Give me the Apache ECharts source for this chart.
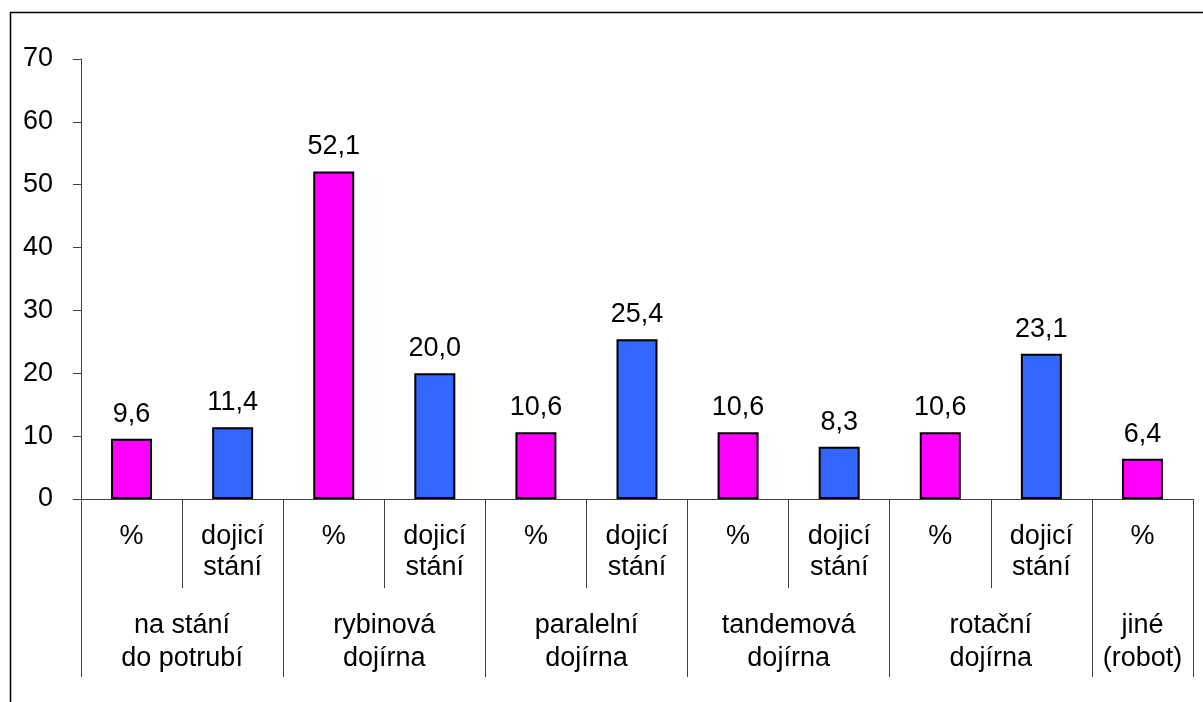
<!DOCTYPE html>
<html>
<head>
<meta charset="utf-8">
<script src="https://cdn.jsdelivr.net/npm/echarts@6/dist/echarts.min.js"></script>
<style>
html,body{margin:0;padding:0;background:#fff;}
#chart{width:1203px;height:702px;}
</style>
</head>
<body>
<div id="chart"></div>
<script>
// Inner categories (one per bar)
const barLabels = ['%', 'dojicí\nstání', '%', 'dojicí\nstání', '%', 'dojicí\nstání', '%', 'dojicí\nstání', '%', 'dojicí\nstání', '%'];
// Measure type for each bar ('pct' = %, 'stand' = dojicí stání)
const barKinds = ['pct', 'stand', 'pct', 'stand', 'pct', 'stand', 'pct', 'stand', 'pct', 'stand', 'pct'];
// Values
const barValues = [9.6, 11.4, 52.1, 20.0, 10.6, 25.4, 10.6, 8.3, 10.6, 23.1, 6.4];
// Outer group labels and how many bars each spans
const groupNames = ['na stání\ndo potrubí', 'rybinová\ndojírna', 'paralelní\ndojírna', 'tandemová\ndojírna', 'rotační\ndojírna', 'jiné\n(robot)'];
const groupSpans = [2, 2, 2, 2, 2, 1];
// Y-axis ticks
const yMin = 0, yMax = 70, yStep = 10;

const kindColor = { pct: '#FF00FF', stand: '#3366FF' };
const FONT = '"Liberation Sans", Arial, sans-serif';
const FS = 27;

// Build half-slot group axis (boundaryGap false, 2 slots per bar)
const nSlots = barLabels.length * 2;
const groupAxisData = new Array(nSlots + 1).fill('');
const groupTickIdx = [0];
let start = 0;
groupNames.forEach((name, i) => {
  const end = start + groupSpans[i];
  groupAxisData[start + end] = name; // center in half-slot units
  groupTickIdx.push(end * 2);
  start = end;
});

const chart = echarts.init(document.getElementById('chart'), null, { renderer: 'canvas' });
chart.setOption({
  animation: false,
  backgroundColor: '#fff',
  textStyle: { fontFamily: FONT },
  grid: { left: 81, right: 10, top: 59, bottom: 203, containLabel: false },
  graphic: [{
    type: 'polyline',
    shape: { points: [[10.5, 702], [10.5, 12.5], [1203, 12.5]] },
    style: { stroke: '#000', lineWidth: 1.5, fill: null },
    silent: true
  }],
  xAxis: [{
    type: 'category',
    data: barLabels,
    position: 'bottom',
    boundaryGap: true,
    axisLine: { show: true, lineStyle: { color: '#404040', width: 1 } },
    axisTick: { show: true, interval: 0, length: 89, lineStyle: { color: '#404040', width: 1 } },
    axisLabel: { interval: 0, margin: 22, color: '#000', fontSize: FS, lineHeight: 31, fontFamily: FONT, align: 'center' },
    splitLine: { show: false }
  }, {
    type: 'category',
    data: groupAxisData,
    position: 'bottom',
    offset: 89,
    boundaryGap: false,
    axisLine: { show: false },
    axisTick: { show: true, length: 89, interval: (i) => groupTickIdx.includes(i), lineStyle: { color: '#404040', width: 1 } },
    axisLabel: { interval: 0, margin: 21, color: '#000', fontSize: FS, lineHeight: 33, fontFamily: FONT, align: 'center' },
    splitLine: { show: false }
  }],
  yAxis: {
    type: 'value',
    min: yMin, max: yMax, interval: yStep,
    axisLine: { show: true, lineStyle: { color: '#404040', width: 1 } },
    axisTick: { show: true, length: 8, lineStyle: { color: '#404040', width: 1 } },
    axisLabel: { margin: 28, color: '#000', fontSize: FS, fontFamily: FONT },
    splitLine: { show: false }
  },
  series: [{
    type: 'bar',
    xAxisIndex: 0,
    barWidth: 41,
    data: barValues.map((v, i) => ({
      value: v,
      itemStyle: { color: kindColor[barKinds[i]], borderColor: '#000', borderWidth: 2 }
    })),
    label: {
      show: true,
      position: 'top',
      distance: 11,
      color: '#000',
      fontSize: FS,
      fontFamily: FONT,
      formatter: (p) => p.value.toFixed(1).replace('.', ',')
    }
  }]
});
</script>
</body>
</html>
